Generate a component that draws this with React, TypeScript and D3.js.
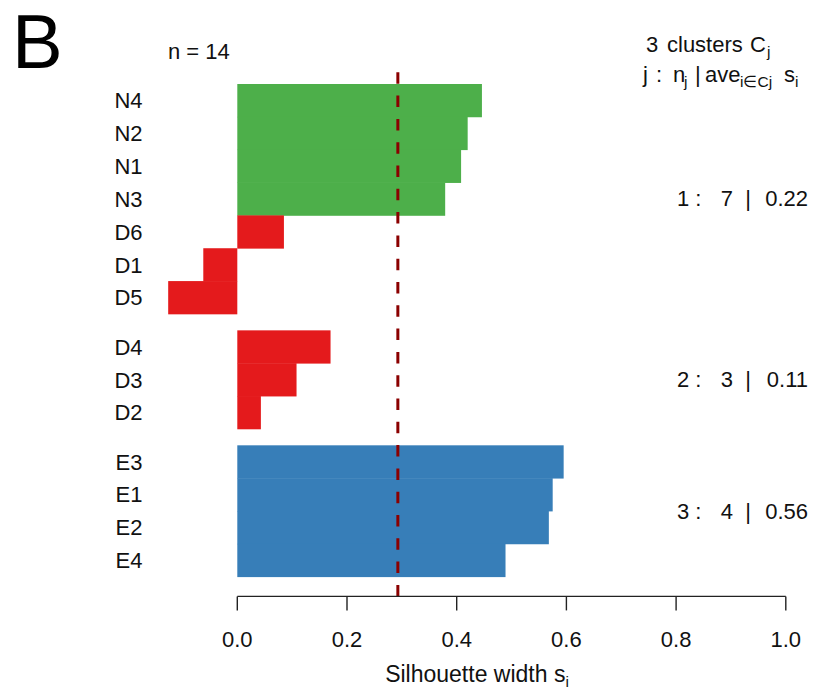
import React from 'react';
import { scaleLinear, format, mean } from 'd3';

// silhouette widths, in plot order (top to bottom)
const labels = ['N4', 'N2', 'N1', 'N3', 'D6', 'D1', 'D5', 'D4', 'D3', 'D2', 'E3', 'E1', 'E2', 'E4'];
const widths = [0.446, 0.420, 0.408, 0.379, 0.085, -0.062, -0.126, 0.170, 0.108, 0.043, 0.595, 0.575, 0.568, 0.489];
const clusters = [1, 1, 1, 1, 1, 1, 1, 2, 2, 2, 3, 3, 3, 3];
const groupColors = { N: '#4DAF4A', D: '#E41A1C', E: '#377EB8' };
const xTicks = [0, 0.2, 0.4, 0.6, 0.8, 1.0];

const W = 816;
const H = 693;
const font = '"Liberation Sans", Arial, Helvetica, sans-serif';
const fs = 22;
const sub = 15.5;

const App = () => {
  const x = scaleLinear().domain([0, 1]).range([237.3, 785.8]);
  const xMin = Math.min(0, ...widths);
  const pad = (1 - xMin) * 0.04;
  const plotLeft = x(xMin - pad);
  const plotRight = x(1 + pad);

  // rows stack with 0 space inside a cluster and half a bar between clusters
  const slots = widths.map((_, i) => i + 0.5 * (clusters[i] - 1));
  const nSlots = widths.length + 0.5 * (clusters[clusters.length - 1] - 1);
  const y = scaleLinear().domain([0, nSlots]).range([84, 576.7]);
  const plotTop = y(-nSlots * 0.04);
  const plotBottom = y(nSlots * 1.04);

  const ids = Array.from(new Set(clusters));
  const avg = mean(widths);
  const fmt = format('.2f');

  return (
    <svg width={W} height={H} style={{ position: 'absolute', left: 0, top: 0, background: '#fff' }}
      fontFamily={font}>
      <text x={12} y={68} fontSize={76} fill="#000">B</text>
      <text x={168} y={59} fontSize={fs} fill="#111">n = {widths.length}</text>

      <text y={52} fontSize={fs} fill="#111">
        <tspan x={646}>{ids.length}</tspan>
        <tspan x={667}>clusters</tspan>
        <tspan x={750}>C</tspan>
        <tspan x={767} dy={5} fontSize={sub}>j</tspan>
      </text>
      <text y={81.5} fontSize={fs} fill="#111">
        <tspan x={643}>j</tspan>
        <tspan x={656}>:</tspan>
        <tspan x={673}>n</tspan>
        <tspan x={684} dy={5} fontSize={sub}>j</tspan>
        <tspan x={695} dy={-5}>|</tspan>
        <tspan x={705}>ave</tspan>
        <tspan x={740} dy={5} fontSize={sub}>i∈Cj</tspan>
        <tspan x={784} dy={-5}>s</tspan>
        <tspan x={795} dy={5} fontSize={sub}>i</tspan>
      </text>

      {widths.map((w, i) => (
        <rect key={labels[i]}
          x={x(Math.min(0, w))}
          y={y(slots[i])}
          width={Math.abs(x(w) - x(0))}
          height={y(slots[i] + 1) - y(slots[i]) + 0.4}
          fill={groupColors[labels[i][0]]} />
      ))}

      {labels.map((l, i) => (
        <text key={l} x={142.5} y={y(slots[i] + 0.5) + 7.9} fontSize={fs} textAnchor="end" fill="#111">{l}</text>
      ))}

      {ids.map(c => {
        const idx = clusters.map((k, i) => (k === c ? i : -1)).filter(i => i >= 0);
        const yc = (y(slots[idx[0]]) + y(slots[idx[idx.length - 1]] + 1)) / 2 + 7.5;
        const s = mean(idx.map(i => widths[i]));
        return (
          <text key={c} y={yc} fontSize={fs} fill="#111">
            <tspan x={677}>{c} :</tspan>
            <tspan x={733} textAnchor="end">{idx.length}</tspan>
            <tspan x={748} textAnchor="middle">|</tspan>
            <tspan x={808} textAnchor="end">{fmt(s)}</tspan>
          </text>
        );
      })}

      <line x1={x(avg)} x2={x(avg)} y1={plotBottom} y2={plotTop}
        stroke="#8B0000" strokeWidth={3} strokeDasharray="11.5 11.8" />

      <g>
        <line x1={x(0)} x2={x(1)} y1={plotBottom} y2={plotBottom} stroke="#222" strokeWidth={1.4} />
        {xTicks.map(t => (
          <g key={t}>
            <line x1={x(t)} x2={x(t)} y1={plotBottom} y2={plotBottom + 14} stroke="#222" strokeWidth={1.4} />
            <text x={x(t)} y={647} fontSize={fs} textAnchor="middle" fill="#111">{format('.1f')(t)}</text>
          </g>
        ))}
      </g>

      <text x={(plotLeft + plotRight) / 2} y={682} fontSize={23} textAnchor="middle" fill="#111">
        Silhouette width s<tspan dy={5} fontSize={sub}>i</tspan>
      </text>
    </svg>
  );
};

export default App;
